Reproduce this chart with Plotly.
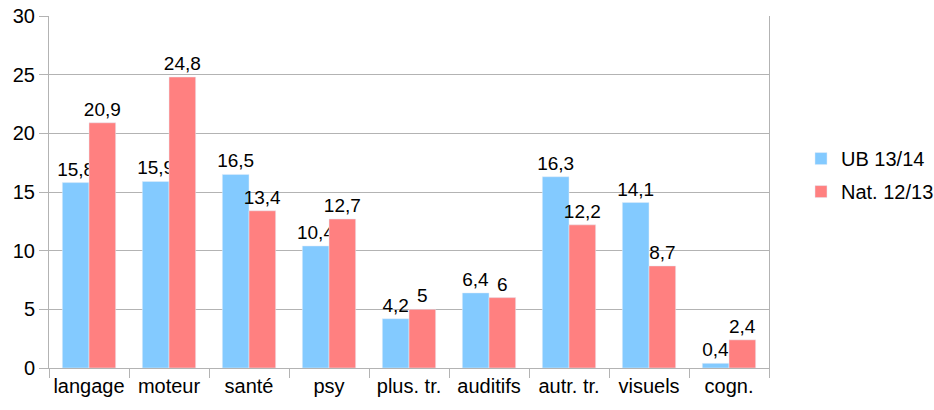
import plotly.graph_objects as go

categories = ["langage", "moteur", "santé", "psy", "plus. tr.", "auditifs", "autr. tr.", "visuels", "cogn."]
ub_values = [15.8, 15.9, 16.5, 10.4, 4.2, 6.4, 16.3, 14.1, 0.4]
nat_values = [20.9, 24.8, 13.4, 12.7, 5, 6, 12.2, 8.7, 2.4]
series_names = ["UB 13/14", "Nat. 12/13"]

def fmt(v):
    return ("%g" % v).replace(".", ",")

font = dict(family="Liberation Sans, Arial, sans-serif", size=20, color="#000000")

fig = go.Figure()
fig.add_trace(go.Bar(x=categories, y=ub_values, name=series_names[0], marker_color="#83CAFF",
                     text=[fmt(v) for v in ub_values], textposition="outside", cliponaxis=False,
                     constraintext="none", textfont=dict(size=19), legendgroup="a"))
fig.add_trace(go.Bar(x=categories, y=nat_values, name=series_names[1], marker_color="#FF8080",
                     text=[fmt(v) for v in nat_values], textposition="outside", cliponaxis=False,
                     constraintext="none", textfont=dict(size=19), legendgroup="b"))

fig.update_layout(
    width=934, height=410,
    margin=dict(l=49, r=165, t=16, b=42),
    paper_bgcolor="white", plot_bgcolor="white",
    barmode="group", bargap=1/3, bargroupgap=0,
    font=font,
    showlegend=True,
    legend=dict(xref="container", yref="container", x=0.8576, y=0.573,
                xanchor="left", yanchor="middle", font=dict(size=20),
                itemwidth=30, tracegroupgap=4),
)
fig.update_xaxes(showline=True, linecolor="#b3b3b3", linewidth=1, ticks="outside", ticklen=9,
                 tickcolor="#b3b3b3", tickson="boundaries", showgrid=False, automargin=False,
                 tickangle=0, tickfont=dict(size=20))
fig.update_yaxes(range=[0, 30], dtick=5, showgrid=True, gridcolor="#b3b3b3", gridwidth=1,
                 showline=True, linecolor="#b3b3b3", mirror=True, ticks="outside", ticklen=9,
                 tickcolor="#b3b3b3", zeroline=False, automargin=False,
                 ticklabeloverflow="allow", tickfont=dict(size=20))

fig.write_html("out.html", config={"displayModeBar": False},
               post_script="document.body.style.margin='0';")
